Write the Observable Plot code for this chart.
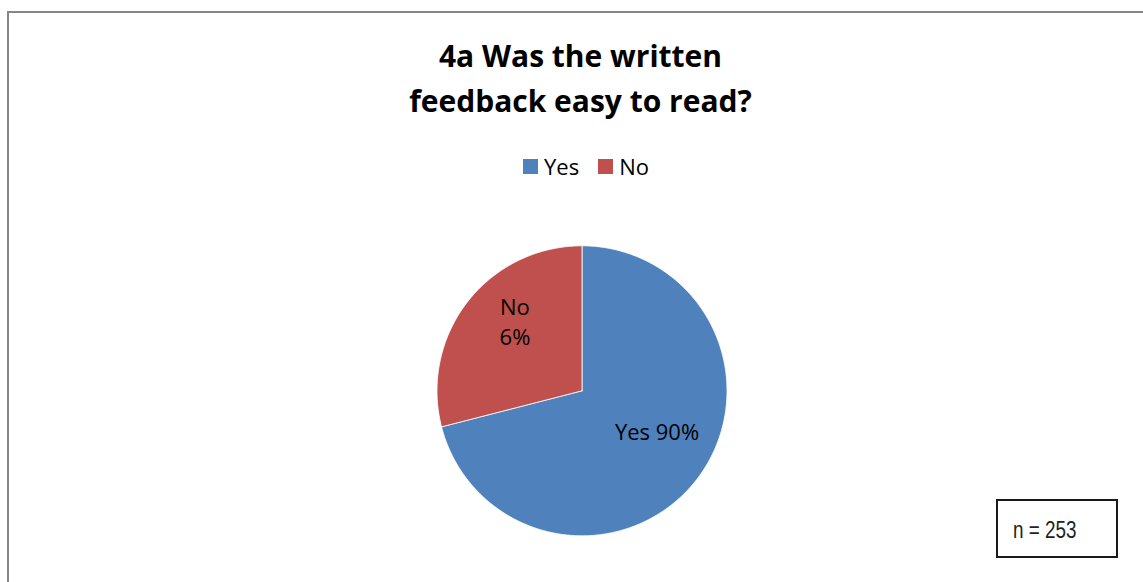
<!DOCTYPE html>
<html>
<head>
<meta charset="utf-8">
<script src="https://cdn.jsdelivr.net/npm/d3@7"></script>
<script src="https://cdn.jsdelivr.net/npm/@observablehq/plot@0.6"></script>
<style>
  html, body { margin: 0; padding: 0; background: #fff; }
  #wrap { position: relative; width: 1143px; height: 582px; overflow: hidden; font-family: "Open Sans", sans-serif; color: #000; }
  #frame { position: absolute; left: 7px; top: 11px; width: 1200px; height: 700px; border-top: 2px solid #868686; border-left: 2px solid #868686; box-sizing: border-box; }
  #title { position: absolute; left: 0; top: 33px; width: 1161px; text-align: center; font-weight: 700; font-size: 30px; line-height: 45px; }
  #legend { position: absolute; left: 0; top: 151px; width: 1191px; display: flex; justify-content: center; }
  .lg-swatches { font-family: "Open Sans", sans-serif !important; font-size: 22px !important; color: #000 !important; margin: 0 !important; min-height: 0 !important; }
  .lg-swatch { margin-right: 19px !important; }
  .lg-swatch > svg { margin-right: 6px !important; }
  #chart { position: absolute; left: 0; top: 190px; }
  #nbox { position: absolute; left: 996px; top: 499px; width: 118px; height: 55px; border: 2px solid #1a1a1a; background: #fff; }
  #ntext { position: absolute; left: 15px; top: 16px; font-family: "Liberation Sans", Arial, sans-serif; font-size: 23px; line-height: 26px; color: #222; transform: scaleX(0.82); transform-origin: left top; white-space: nowrap; }
</style>
</head>
<body>
<div id="wrap">
  <div id="frame"></div>
  <div id="title"></div>
  <div id="legend"></div>
  <div id="chart"></div>
  <div id="nbox"><span id="ntext"></span></div>
</div>
<script>
// ---- data ----
const titleLines = ["4a Was the written", "feedback easy to read?"];
const categories = ["Yes", "No"];
const sliceShares = [71, 29];            // slice sizes as drawn (percent of circle)
const sliceLabels = ["Yes 90%", "No\n6%"]; // label text as printed on the slices
const colors = ["#4F81BD", "#C0504D"];
const sampleNote = "n = 253";

// ---- text ----
document.getElementById("title").innerHTML = titleLines.join("<br>");
document.getElementById("ntext").textContent = sampleNote;

// ---- pie geometry from d3.pie ----
const table = categories.map((c, i) => ({category: c, value: sliceShares[i], label: sliceLabels[i]}));
const arcs = d3.pie().sort(null).value(d => d.value).startAngle(0).endAngle(2 * Math.PI)(table);

const outline = [];
for (const a of arcs) {
  const steps = Math.max(4, Math.ceil((a.endAngle - a.startAngle) / (Math.PI / 180)));
  outline.push({category: a.data.category, x: 0, y: 0});
  for (let k = 0; k <= steps; k++) {
    const t = a.startAngle + (a.endAngle - a.startAngle) * k / steps;
    outline.push({category: a.data.category, x: Math.sin(t), y: Math.cos(t)});
  }
  outline.push({category: a.data.category, x: 0, y: 0});
}
const labelPts = arcs.map(a => {
  const m = (a.startAngle + a.endAngle) / 2;
  return {label: a.data.label, x: 0.62 * Math.sin(m), y: 0.62 * Math.cos(m)};
});

const color = {domain: categories, range: colors};

const chart = Plot.plot({
  width: 1143,
  height: 392,
  marginLeft: 436.5,
  marginRight: 416.5,
  marginTop: 55.3,
  marginBottom: 46.7,
  x: {domain: [-1, 1], axis: null},
  y: {domain: [-1, 1], axis: null},
  color,
  style: {background: "transparent", overflow: "visible"},
  marks: [
    Plot.line(outline, {x: "x", y: "y", z: "category", fill: "category", stroke: "#fff", strokeWidth: 0.8, strokeLinejoin: "miter", curve: "linear"}),
    Plot.text(labelPts, {x: "x", y: "y", text: "label", dx: 4, dy: -15, fontSize: 22, fontFamily: "Open Sans, sans-serif", fill: "#000", lineHeight: 1.36, textAnchor: "middle"})
  ]
});
document.getElementById("chart").appendChild(chart);

const legend = Plot.legend({color, legend: "swatches", swatchSize: 15, className: "lg"});
document.getElementById("legend").appendChild(legend);
</script>
</body>
</html>
